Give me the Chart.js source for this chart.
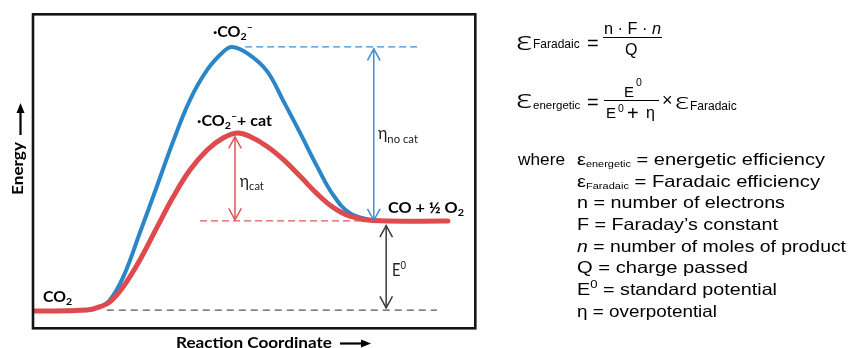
<!DOCTYPE html>
<html><head><meta charset="utf-8">
<script src="https://cdn.jsdelivr.net/npm/chart.js@4.4.1/dist/chart.umd.min.js"></script>
<style>
html,body{margin:0;padding:0;background:#fff;width:850px;height:348px;overflow:hidden;}
#wrap{position:absolute;left:0;top:0;width:490px;height:348px;}
#panel{position:absolute;left:0;top:0;width:850px;height:348px;font-family:"Liberation Sans",Arial,sans-serif;color:#000;pointer-events:none;}
.t{position:absolute;white-space:nowrap;line-height:1;transform-origin:0 0;}
.s{position:relative;line-height:0;}
.eps{font-family:"Noto Sans","Liberation Sans",sans-serif;font-weight:300;}
.bar{position:absolute;height:1px;background:#000;}
</style></head><body>
<div id="wrap"><canvas id="c" width="490" height="348"></canvas></div>
<div id="panel"></div>
<script>
// ---------------- data ----------------
const coordRed   = [0, 12.2, 15.2, 17.4, 20.4, 24.2, 28.1, 31.7, 35.5, 39.4, 43.0, 46.2, 49.1, 52.9, 56.6, 60.4, 64.3, 67.9, 71.7, 76.9, 93.9];
const energyRed  = [0, 0.3, 1.4, 2.9, 7.7, 16.3, 26.8, 36.3, 44.9, 51.3, 55.1, 56.7, 55.6, 52.5, 48.3, 43.0, 37.3, 33.0, 30.2, 28.8, 28.7];
const coordBlue  = [0, 12.2, 15.2, 17.4, 20.4, 24.2, 28.1, 31.7, 35.5, 39.4, 43.0, 45.0, 48.6, 52.9, 56.6, 60.4, 64.3, 67.9, 71.7, 76.9];
const energyBlue = [0, 0.3, 1.3, 3.5, 10.8, 25.0, 40.0, 54.0, 67.2, 76.8, 82.5, 84.1, 82.0, 76.5, 67.0, 56.8, 46.0, 37.0, 31.2, 28.8];

const levelReactant = 0.3;   // CO2
const levelProduct  = 28.7;  // CO + 1/2 O2
const levelPeakCat  = 56.7;  // ·CO2- + cat
const levelPeakNoCat = 84.1; // ·CO2-

// ---------------- styles ----------------
const BLUE = '#2b86c8', RED = '#df4a4e', TBLUE = '#3a8fd4', TRED = '#e0575a', DARK = '#3c3c3c', GRAY = '#555555';
const FONT = 'Lato, "Open Sans", sans-serif';

const pts = (xs, ys) => xs.map((x, i) => ({x: x, y: ys[i]}));
const hline = (y, x0, x1) => [{x: x0, y: y}, {x: x1, y: y}];
const vline = (x, y0, y1) => [{x: x, y: y0}, {x: x, y: y1}];
const thin = (data, color, dash, w) => ({data: data, borderColor: color, borderWidth: w || 1.2, borderDash: dash || [], pointRadius: 0, fill: false, tension: 0});

// arrows: x position, two tip values, colour
const arrows = [
  {x: 77.1, y0: levelPeakNoCat - 0.6, y1: levelProduct + 0.2, color: TBLUE},
  {x: 45.7, y0: levelPeakCat - 1.2, y1: levelProduct + 0.3, color: TRED},
  {x: 79.9, y0: levelProduct - 1.5, y1: levelReactant + 0.7, color: DARK}
];

const curve = (data, color, w) => ({data: data, borderColor: color, borderWidth: w, tension: 0.4, pointRadius: 0, fill: false, borderCapStyle: 'round', borderJoinStyle: 'round'});
const datasets = [
  curve(pts(coordRed, energyRed), RED, 5),
  curve(pts(coordBlue, energyBlue), BLUE, 4),
  thin(hline(levelPeakNoCat, 48.0, 86.9), TBLUE, [7, 4]),
  thin(hline(levelProduct, 37.8, 74.0), TRED, [7, 4]),
  thin(hline(levelReactant, 16.7, 91.4), GRAY, [7, 5]),
].concat(arrows.map(a => thin(vline(a.x, a.y0, a.y1), a.color, [], 1.5)));

// rich text helper: runs drawn in sequence, horizontally fitted to width w
function rich(ctx, runs, x, y, w, rot, color) {
  ctx.save();
  let W = 0;
  runs.forEach(r => { ctx.font = r.f; r.w = ctx.measureText(r.t).width; W += r.w; });
  const s = w ? w / W : 1;
  ctx.translate(x, y);
  if (rot) ctx.rotate(-Math.PI / 2);
  ctx.scale(s, 1);
  ctx.fillStyle = color || '#000';
  ctx.textBaseline = 'alphabetic';
  let cx = 0;
  runs.forEach(r => { ctx.font = r.f; ctx.fillText(r.t, cx, r.dy || 0); cx += r.w; });
  ctx.restore();
}
const B = n => 'bold ' + n + 'px ' + FONT;
const R = n => n + 'px ' + FONT;

const labels = [
  {x: 2.26, y: 3.0, w: 29, runs: [{t: 'CO', f: B(15)}, {t: '2', f: B(10), dy: 3}]},
  {x: 40.7, y: 87.3, w: 40, runs: [{t: '·CO', f: B(15)}, {t: '2', f: B(10), dy: 3}, {t: '–', f: B(10), dy: -7}]},
  {x: 37.1, y: 58.9, w: 75, runs: [{t: '·CO', f: B(15)}, {t: '2', f: B(10), dy: 3}, {t: '–', f: B(10), dy: -7}, {t: '+ cat', f: B(15)}]},
  {x: 80.3, y: 31.2, w: 76, runs: [{t: 'CO + ½ O', f: B(15)}, {t: '2', f: B(10), dy: 3}]},
  {x: 78.05, y: 54.8, w: 40, color: '#222', runs: [{t: 'η', f: R(17)}, {t: 'no cat', f: R(12), dy: 4}]},
  {x: 46.8, y: 39.5, w: 24, color: '#222', runs: [{t: 'η', f: R(17)}, {t: 'cat', f: R(12), dy: 3}]},
  {x: 81.2, y: 11.2, w: 14, color: '#222', runs: [{t: 'E', f: R(17)}, {t: '0', f: R(11), dy: -7}]}
];

const deco = {
  id: 'deco',
  afterDatasetsDraw(chart) {
    const ctx = chart.ctx, xs = chart.scales.x, ys = chart.scales.y, ca = chart.chartArea;
    // arrow heads (open V)
    arrows.forEach(a => {
      const px = xs.getPixelForValue(a.x);
      [[a.y0, a.y1], [a.y1, a.y0]].forEach(([tip, other]) => {
        const py = ys.getPixelForValue(tip), dir = ys.getPixelForValue(other) > py ? 1 : -1;
        ctx.save(); ctx.strokeStyle = a.color; ctx.lineWidth = 1.5;
        ctx.beginPath(); ctx.moveTo(px - 6.3, py + dir * 11.5); ctx.lineTo(px, py); ctx.lineTo(px + 6.3, py + dir * 11.5); ctx.stroke();
        ctx.restore();
      });
    });
    // frame
    ctx.save(); ctx.strokeStyle = '#151515'; ctx.lineWidth = 2.6;
    ctx.strokeRect(ca.left, ca.top + 0.3, ca.right - ca.left + 0.3, ca.bottom - ca.top);
    ctx.restore();
    // labels
    labels.forEach(l => rich(ctx, l.runs, xs.getPixelForValue(l.x), ys.getPixelForValue(l.y), l.w, false, l.color));
    // axis titles
    rich(ctx, [{t: 'Energy', f: B(15)}], ca.left - 10.5, ca.bottom - 133, 53, true);
    ctx.save(); ctx.fillStyle = '#000'; ctx.strokeStyle = '#000'; ctx.lineWidth = 2.2;
    const ax = ca.left - 12.5;
    ctx.beginPath(); ctx.moveTo(ax, ca.top + 121); ctx.lineTo(ax, ca.top + 96); ctx.stroke();
    ctx.beginPath(); ctx.moveTo(ax, ca.top + 89); ctx.lineTo(ax - 4, ca.top + 99); ctx.lineTo(ax + 4, ca.top + 99); ctx.closePath(); ctx.fill();
    rich(ctx, [{t: 'Reaction Coordinate', f: B(15)}], 176, ca.bottom + 19.5, 156, false);
    const ay = ca.bottom + 15.5;
    ctx.beginPath(); ctx.moveTo(340, ay); ctx.lineTo(362, ay); ctx.stroke();
    ctx.beginPath(); ctx.moveTo(371, ay); ctx.lineTo(361, ay - 4); ctx.lineTo(361, ay + 4); ctx.closePath(); ctx.fill();
    ctx.restore();
  }
};

new Chart(document.getElementById('c'), {
  type: 'line',
  data: {datasets: datasets},
  options: {
    responsive: false, animation: false, events: [],
    layout: {padding: {left: 33, top: 14, right: 15, bottom: 20}},
    plugins: {legend: {display: false}, tooltip: {enabled: false}},
    scales: {
      x: {type: 'linear', min: 0, max: 100, display: false},
      y: {type: 'linear', min: -5.4, max: 94.6, display: false}
    }
  },
  plugins: [deco]
});

// ---------------- right-hand text panel ----------------
const panel = document.getElementById('panel');
function put(html, x, base, size, w, cls) {
  const d = document.createElement('div');
  d.className = 't' + (cls ? ' ' + cls : ''); d.innerHTML = html;
  d.style.left = x + 'px'; d.style.fontSize = size + 'px';
  d.style.top = (base - 0.8465 * size) + 'px';
  panel.appendChild(d);
  if (w) { const nw = d.getBoundingClientRect().width; d.style.transform = 'scaleX(' + (w / nw) + ')'; }
  return d;
}
function bar(x, y, w) { const d = document.createElement('div'); d.className = 'bar'; d.style.left = x + 'px'; d.style.top = y + 'px'; d.style.width = w + 'px'; panel.appendChild(d); }

// Faradaic efficiency
put('ε', 516, 49, 26, 16, 'eps');
put('Faradaic', 533, 48, 12);
put('=', 587, 50, 20);
put('n · F · <i>n</i>', 604, 35, 16, 57);
bar(603, 36.5, 59);
put('Q', 625, 56, 16);
// energetic efficiency
put('ε', 516, 107, 26, 16, 'eps');
put('energetic', 533, 110, 11.5);
put('=', 587, 109, 20);
put('E', 624, 97, 15); put('0', 636, 86, 10.5);
bar(604, 99.5, 55);
put('E', 606, 117.5, 15); put('0', 618, 112, 10.5);
put('+', 627, 120, 20);
put('η', 646, 118.5, 16);
put('×', 662, 106, 18);
put('ε', 675, 108, 22, 14, 'eps');
put('Faradaic', 690, 110, 12);
// definitions
put('where', 518, 165, 17, 47);
const defs = [
  ['ε<span class="s" style="font-size:9px;top:2px">energetic</span> = energetic efficiency', 248],
  ['ε<span class="s" style="font-size:9px;top:2px">Faradaic</span> = Faradaic efficiency', 243],
  ['n = number of electrons', 208],
  ['F = Faraday’s constant', 201],
  ['<i>n</i> = number of moles of product', 269],
  ['Q = charge passed', 171],
  ['E<span class="s" style="font-size:11px;top:-7px">0</span> = standard potential', 200],
  ['η = overpotential', 140]
];
const defBase = [165, 187, 208, 230, 252, 273, 295, 317];
defs.forEach((d, i) => put(d[0], 577, defBase[i], 16.5, d[1]));
</script>
</body></html>
